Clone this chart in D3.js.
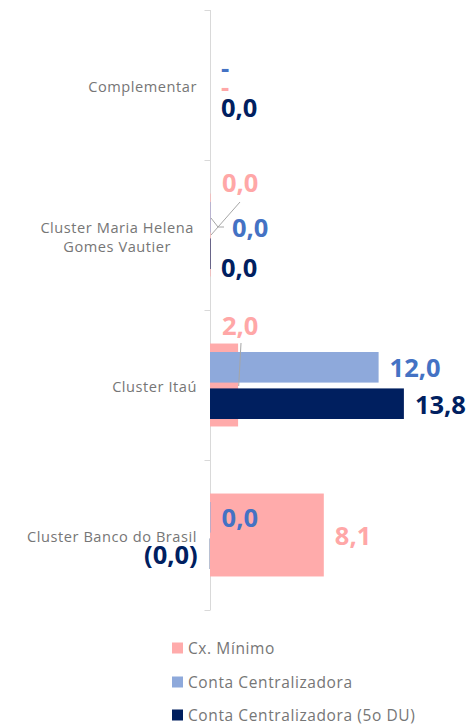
<!DOCTYPE html>
<html><head><meta charset="utf-8">
<script src="https://cdn.jsdelivr.net/npm/d3@7"></script>
<style>body{margin:0;background:#fff}svg{display:block}</style>
</head><body>
<svg id="c" width="469" height="725"></svg>
<script>
const categories = ["Complementar", "Cluster Maria Helena Gomes Vautier", "Cluster Itaú", "Cluster Banco do Brasil"];
const seriesNames = ["Cx. Mínimo", "Conta Centralizadora", "Conta Centralizadora (5o DU)"];
const cxMinimo = [null, 0.04, 2.0, 8.1];
const contaCentralizadora = [null, 0.04, 12.0, 0.04];
const contaCentralizadora5DU = [0.0, 0.04, 13.8, -0.02];
const colors = ["#FFABAB", "#8EA9DB", "#001F5F"];
const labelColors = ["#FFA7A7", "#4472C4", "#002060"];

const svg = d3.select("#c");
const FONT = "'Open Sans', Lato, sans-serif";
const x = d3.scaleLinear().domain([0, 14]).range([210, 406.7]);
const yCat = d3.scaleBand().domain(categories).range([10, 610]);
const yPink = d3.scaleBand().domain(categories).range([10, 610]).paddingInner(0.447).paddingOuter(0.2235);
const ySub = d3.scaleBand().domain([1, 2]).range([42, 109]).paddingInner(0.16);

// axis
const axis = d3.axisLeft(yCat).tickSize(0).tickFormat("");
const gAxis = svg.append("g").attr("transform", "translate(210.5,0)").call(axis);
gAxis.select(".domain").attr("stroke", "#D9D9D9").attr("d", "M0,10V610");
gAxis.selectAll("line.sep").data(categories.map(c => yCat(c)).concat([yCat.range()[1]]))
  .join("line").attr("class", "sep")
  .attr("x1", -6).attr("x2", 0).attr("y1", d => Math.round(d) + 0.5).attr("y2", d => Math.round(d) + 0.5)
  .attr("stroke", "#D9D9D9");

// category labels
const CAT_FS = 14.6, CAT_LS = 0.55;
const catG = svg.append("g");
categories.forEach(c => {
  const cy = yCat(c) + yCat.bandwidth() / 2 + 1;
  const t = catG.append("text").attr("font-family", FONT).attr("font-size", CAT_FS)
    .attr("letter-spacing", CAT_LS).attr("fill", "#767676");
  t.text(c);
  const w = t.node().getComputedTextLength();
  if (w > 185) {
    t.text(null);
    const words = c.split(" ");
    let lines = [], cur = [];
    const tmp = catG.append("text").attr("font-family", FONT).attr("font-size", CAT_FS).attr("letter-spacing", CAT_LS);
    words.forEach(wd => {
      const test = cur.concat([wd]).join(" ");
      tmp.text(test);
      if (tmp.node().getComputedTextLength() > 175 && cur.length) { lines.push(cur.join(" ")); cur = [wd]; }
      else cur.push(wd);
    });
    lines.push(cur.join(" "));
    let maxW = 0;
    lines.forEach(l => { tmp.text(l); maxW = Math.max(maxW, tmp.node().getComputedTextLength()); });
    tmp.remove();
    const cx = 194 - maxW / 2;
    const lh = 19;
    lines.forEach((l, i) => {
      t.append("tspan").attr("x", cx).attr("y", cy + (i - (lines.length - 1) / 2) * lh)
        .attr("dominant-baseline", "central").attr("text-anchor", "middle").text(l);
    });
  } else {
    t.attr("x", 197).attr("y", cy).attr("text-anchor", "end").attr("dominant-baseline", "central");
  }
});

// bars
const allSeries = [cxMinimo, contaCentralizadora, contaCentralizadora5DU];
const barG = svg.append("g");
function barY(si, c) { return si === 0 ? yPink(c) : yCat(c) + ySub(si); }
function barH(si) { return si === 0 ? yPink.bandwidth() : ySub.bandwidth(); }
allSeries.forEach((vals, si) => {
  barG.selectAll(null).data(vals.map((v, i) => ({ v, c: categories[i] })).filter(d => d.v !== null))
    .join("rect")
    .attr("x", d => x(Math.min(0, d.v)))
    .attr("width", d => Math.abs(x(d.v) - x(0)))
    .attr("y", d => barY(si, d.c))
    .attr("height", barH(si))
    .attr("fill", colors[si]);
});

// data labels
const fmt = v => {
  if (v === null) return "-";
  const s = d3.format(".1f")(Math.abs(v)).replace(".", ",");
  return v < 0 ? "(" + s + ")" : s;
};
// manual label placement adjustments (layout)
const adjust = {
  "0|Complementar": { dy: 1 }, "1|Complementar": { dy: 0 }, "2|Complementar": { dy: 3 },
  "0|Cluster Maria Helena Gomes Vautier": { x: 222, y: 182, leader: [[240, 202], [211, 235]] },
  "1|Cluster Maria Helena Gomes Vautier": { x: 232, y: 227, leader: [[224, 227], [218, 227], [211, 218]] },
  "2|Cluster Maria Helena Gomes Vautier": { x: 221, y: 267 },
  "0|Cluster Itaú": { x: 222, y: 325, leader: [[241, 343], [238.7, 386]] }
};
const labG = svg.append("g");
const leadG = svg.append("g");
allSeries.forEach((vals, si) => {
  vals.forEach((v, i) => {
    const c = categories[i];
    const a = adjust[si + "|" + c] || {};
    const cy = barY(si, c) + barH(si) / 2;
    const neg = v !== null && v < 0;
    let lx = neg ? x(v) - 12 : x(Math.max(0, v || 0)) + 11;
    let ly = cy + (a.dy || 0);
    if (a.x !== undefined) lx = a.x;
    if (a.y !== undefined) ly = a.y;
    labG.append("text").attr("x", lx).attr("y", ly)
      .attr("text-anchor", neg ? "end" : "start").attr("dominant-baseline", "central")
      .attr("font-family", FONT).attr("font-weight", "bold").attr("font-size", 25.5)
      .attr("fill", labelColors[si]).text(fmt(v));
    if (a.leader) {
      leadG.append("path").attr("d", d3.line()(a.leader)).attr("fill", "none")
        .attr("stroke", "#A6A6A6").attr("stroke-width", 1);
    }
  });
});

// legend
const lg = svg.append("g");
const legY = [648, 682, 715];
seriesNames.forEach((n, i) => {
  lg.append("rect").attr("x", 172).attr("y", legY[i] - 5.5).attr("width", 11).attr("height", 11).attr("fill", colors[i]);
  lg.append("text").attr("x", 188).attr("y", legY[i]).attr("dominant-baseline", "central")
    .attr("font-family", FONT).attr("font-size", 15.5).attr("letter-spacing", 0.6)
    .attr("fill", "#767676").text(n);
});
</script>
</body></html>
